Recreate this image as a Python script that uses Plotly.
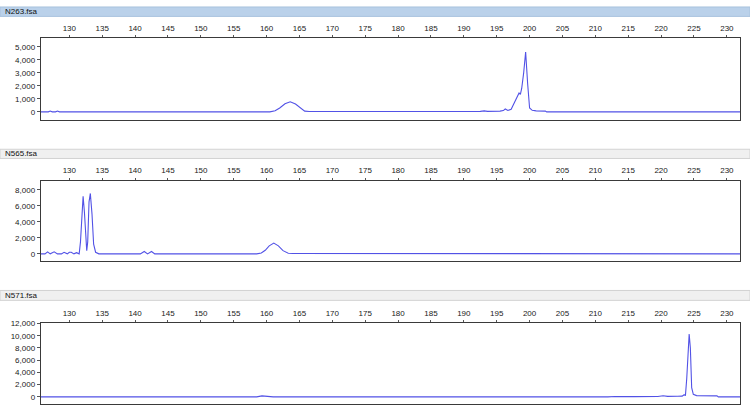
import plotly.graph_objects as go

# ---------------- data ----------------
sample_names = ["N263.fsa", "N565.fsa", "N571.fsa"]

n263_size = [125.6, 126.8, 127.1, 127.4, 127.9, 128.2, 128.5, 129.5, 160.5, 161.3, 162.0,
             162.8, 163.6, 164.4, 165.2, 165.8, 166.5, 169.0, 169.2, 186.0, 186.5, 187.0,
             190.0, 192.5, 193.1, 193.6, 195.5, 196.0, 196.3, 196.7, 197.2, 197.6, 198.0,
             198.4, 198.6, 198.8, 199.1, 199.4, 199.7, 200.0, 200.4, 201.0, 202.4, 202.6, 232.0]
n263_rfu = [0, 0, 60, 0, 0, 60, 0, 0, 0, 80, 300,
            620, 780, 600, 250, 60, 30, 30, 0, 0, 40, 0,
            30, 40, 80, 40, 60, 100, 220, 110, 200, 600, 1100,
            1450, 1350, 1800, 3000, 4600, 2200, 300, 120, 80, 60, 0, 0]

n565_size = [125.6, 126.3, 126.7, 127.1, 127.7, 128.2, 128.8, 129.2, 129.7, 130.0, 130.3,
             130.7, 131.1, 131.5, 131.7, 131.9, 132.1, 132.3, 132.5, 132.65, 132.8, 133.0,
             133.2, 133.45, 133.7, 134.0, 134.5, 140.8, 141.4, 141.9, 142.5, 143.0, 158.5,
             159.2, 159.8, 160.4, 161.1, 161.8, 162.5, 163.3, 164.0, 165.7, 165.9, 232.0]
n565_rfu = [0, 0, 250, 0, 250, 0, 0, 200, 0, 200, 200,
            0, 150, 0, 1500, 5000, 7200, 5200, 1500, 400, 1500, 6500,
            7550, 5000, 1200, 200, 0, 0, 300, 0, 300, 0, 0,
            100, 450, 1000, 1350, 1000, 400, 80, 50, 50, 0, 0]

n571_size = [125.6, 158.5, 159.3, 160.2, 161.0, 211.9, 213.0, 216.0, 218.5, 219.5, 220.3,
             221.0, 222.5, 223.2, 223.5, 223.7, 223.9, 224.1, 224.27, 224.45, 224.65, 224.9,
             225.4, 228.5, 228.7, 232.0]
n571_rfu = [0, 0, 150, 100, 0, 0, 60, 40, 60, 50, 180,
            80, 100, 120, 350, 200, 3000, 8500, 10300, 8000, 1500, 400,
            200, 150, 0, 0]

size_ticks = [130, 135, 140, 145, 150, 155, 160, 165, 170, 175, 180, 185, 190, 195,
              200, 205, 210, 215, 220, 225, 230]
x_range = [125.65, 232.0]
y_ranges = [[-590, 5670], [-950, 9160], [-1180, 12070]]
y_dticks = [1000, 2000, 2000]

series = [(n263_size, n263_rfu), (n565_size, n565_rfu), (n571_size, n571_rfu)]

# ---------------- layout geometry ----------------
W, H = 750, 408
x_dom = [40.7 / W, 740 / W]
plot_px = [(34.5, 116.7), (178.3, 260.0), (322.3, 404.0)]   # top, bottom in px
head_px = [(3.0, 12.5), (146.7, 156.0), (289.3, 299.3)]
head_fill = ["#bad1ea", "#f0f0f0", "#f0f0f0"]
head_line = ["#a9c2de", "#d2d2d2", "#d2d2d2"]

font = dict(family="Liberation Sans, Arial, sans-serif", size=8, color="#222222")

fig = go.Figure()
shapes = []
annotations = []
for i, (xs, ys) in enumerate(series):
    sfx = "" if i == 0 else str(i + 1)
    fig.add_trace(go.Scatter(x=xs, y=ys, mode="lines",
                             line=dict(color="#5252e6", width=1.1),
                             xaxis="x" + sfx, yaxis="y" + sfx,
                             showlegend=False, hoverinfo="skip"))
    top, bot = plot_px[i]
    ydom = [1 - bot / H, 1 - top / H]
    fig.layout["xaxis" + sfx] = dict(
        domain=x_dom, range=x_range, side="top", anchor="y" + sfx,
        tickvals=size_ticks, ticks="outside", ticklen=2, tickcolor="#555555",
        showgrid=False, zeroline=False, showline=True, linecolor="#3a3a3a",
        linewidth=1, mirror=True, tickfont=font, ticklabelstandoff=1)
    fig.layout["yaxis" + sfx] = dict(
        domain=ydom, range=y_ranges[i], anchor="x" + sfx,
        dtick=y_dticks[i], tick0=0, tickformat=",d", ticks="outside",
        ticklen=3, tickcolor="#555555", showgrid=False, zeroline=False,
        showline=True, linecolor="#3a3a3a", linewidth=1, mirror=True,
        tickfont=font)
    h0, h1 = head_px[i]
    shapes.append(dict(type="rect", xref="paper", yref="paper",
                       x0=0, x1=1, y0=1 - h1 / H, y1=1 - h0 / H,
                       fillcolor=head_fill[i], line=dict(color=head_line[i], width=1),
                       layer="below"))
    annotations.append(dict(text=sample_names[i], xref="paper", yref="paper",
                            x=3 / W, y=1 - (h0 + h1) / 2 / H, xanchor="left",
                            yanchor="middle", showarrow=False,
                            font=dict(family="Liberation Sans, Arial, sans-serif",
                                      size=8, color="#111111")))

fig.update_layout(width=W, height=H, margin=dict(l=0, r=0, t=0, b=0),
                  paper_bgcolor="white", plot_bgcolor="white",
                  shapes=shapes, annotations=annotations)

fig.write_html("out.html")
